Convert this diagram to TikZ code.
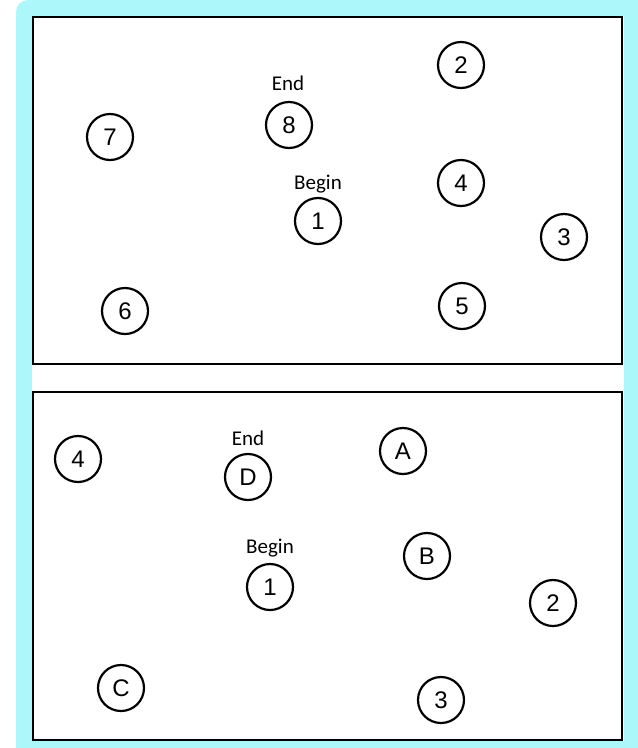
\documentclass[tikz,border=0pt]{standalone}
\usepackage{fontspec}
\setmainfont{Liberation Sans}
\newfontfamily\tagfont{Carlito}
\definecolor{framecyan}{RGB}{171,247,250}

\begin{document}
\begin{tikzpicture}[
    x=1pt, y=-1pt,
    state/.style={circle, draw=black, line width=2.2pt, minimum size=46pt, inner sep=0pt,
                  font=\fontsize{24}{27}\selectfont}, % numbered / lettered stop
    tag/.style={font=\tagfont\fontsize{21}{25}\selectfont, inner sep=0pt, anchor=base},
    panel/.style={draw=black, line width=2.8pt, fill=white}
]
    \clip (0,0) rectangle (638,748);

    % --- BACKGROUND ---
    \fill[white] (0,0) rectangle (638,748);
    \fill[framecyan, rounded corners=12pt] (16,0) rectangle (660,770);
    \fill[white] (32,16) rectangle (624,741);

    % --- TOP PANEL ---
    \draw[panel] (33,17) rectangle (622,364);

    \node[state] (t2) at (461,65) {2};
    \node[state] (t8) at (289,125) {8};
    \node[state] (t7) at (110,137) {7};
    \node[state] (t4) at (461,183) {4};
    \node[state] (t1) at (318,221) {1};
    \node[state] (t3) at (564,237) {3};
    \node[state] (t6) at (125,311) {6};
    \node[state] (t5) at (462,306) {5};

    % Labels
    \node[tag] (tEnd) at (288,90) {End};
    \node[tag] (tBegin) at (318,189) {Begin};

    % --- BOTTOM PANEL ---
    \draw[panel] (33,392) rectangle (622,740);

    \node[state] (b4) at (78,459) {4};
    \node[state] (bD) at (248,477) {D};
    \node[state] (bA) at (403,451) {A};
    \node[state] (b1) at (270,587) {1};
    \node[state] (bB) at (427,556) {B};
    \node[state] (b2) at (553,603) {2};
    \node[state] (bC) at (121,688) {C};
    \node[state] (b3) at (441,700) {3};

    % Labels
    \node[tag] (bEnd) at (248,445) {End};
    \node[tag] (bBegin) at (270,553) {Begin};

\end{tikzpicture}
\end{document}
